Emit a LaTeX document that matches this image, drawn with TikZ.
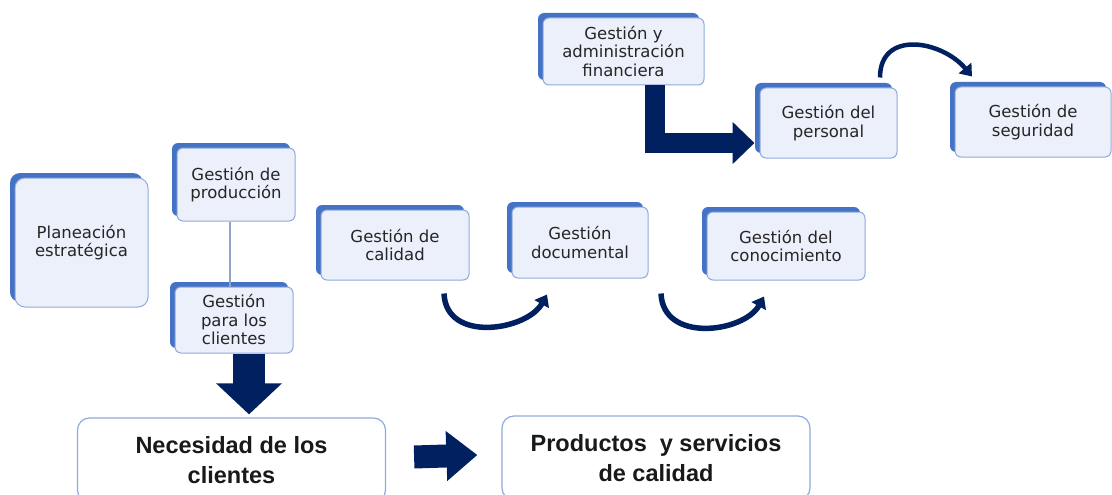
\documentclass[tikz,border=0pt]{standalone}
\usepackage{fontspec}
\usepackage{xcolor}
\usepackage{tikz}
\usetikzlibrary{shadows,arrows.meta,positioning,calc}
\newfontfamily\gfont{DejaVu Sans}
\newfontfamily\nfont{Liberation Sans}
\definecolor{flecha}{RGB}{0,32,96}
\definecolor{sombra}{RGB}{68,114,196}
\definecolor{relleno}{RGB}{235,240,250}
\definecolor{borde}{RGB}{143,170,220}
\definecolor{enlace}{RGB}{142,164,200}
\tikzset{
gest/.style={rectangle,rounded corners=6pt,
inner sep=0pt,align=center,
draw=borde,line width=1pt,fill=relleno,text=black!85,
font=\gfont\fontsize{16.5}{18.5}\selectfont,
general shadow={shadow xshift=-5pt,shadow yshift=5pt,fill=sombra}},
meta/.style={rectangle,rounded corners=12pt,
minimum width=308pt,minimum height=84pt,inner sep=0pt,align=center,
draw=borde,line width=1.2pt,fill=white,text=black!90,
font=\nfont\bfseries\fontsize{23.5}{30}\selectfont},
bloque/.style n args={3}{draw=flecha,line width=#1,
-{Triangle[width=#2,length=#3]}},
curva/.style={draw=flecha,line width=5.5pt,
-{Triangle[width=16pt,length=11pt]}},
linea/.style={draw=enlace,line width=1.2pt}
}

\begin{document}
\begin{tikzpicture}[x=1pt,y=-1pt]
	\useasboundingbox (0,0) rectangle (1112,495);

	% cajas de gestion
	\node[gest,minimum width=161pt,minimum height=67pt,name=fin] at (623.5,51.5) {Gestión y\\administración\\financiera};
	\node[gest,minimum width=137pt,minimum height=70pt,name=pers] at (828.5,123) {Gestión del\\personal};
	\node[gest,minimum width=156pt,minimum height=70pt,name=seg] at (1033,122) {Gestión de\\seguridad};
	\node[gest,rounded corners=10pt,minimum width=133pt,minimum height=129pt,name=plan] at (81.5,242.5) {Planeación\\estratégica};
	\node[gest,minimum width=118pt,minimum height=73pt,name=prod] at (236,184.5) {Gestión de\\producción};
	\node[gest,minimum width=118pt,minimum height=66pt,name=cli] at (234,320) {Gestión\\para los\\clientes};
	\node[gest,minimum width=148pt,minimum height=70pt,name=cal] at (395,245) {Gestión de\\calidad};
	\node[gest,minimum width=136pt,minimum height=71pt,name=doc] at (580,242.5) {Gestión\\documental};
	\node[gest,minimum width=158pt,minimum height=68pt,name=con] at (786,246) {Gestión del\\conocimiento};

	% resultados
	\node[meta,name=nec] at (231.5,460) {Necesidad de los\\clientes};
	\node[meta,name=prd] at (656,458) {Productos~ y servicios\\de calidad};

	\draw[linea] ([xshift=-6pt]prod.south) -- ([xshift=-4pt]cli.north);

	\draw[bloque={20pt}{41pt}{22pt}] ([xshift=31pt]fin.south) |- ([shift={(-5,20)}]pers.west);
	\draw[bloque={32pt}{64pt}{31pt}] ([xshift=15pt]cli.south) -- ([xshift=15pt,yshift=3pt]cli.south |- nec.north);
	\draw[bloque={23pt}{48pt}{31pt}] ([shift={(28,-3)}]nec.east) -- ([shift={(-24,-3)}]prd.west);

	\draw[curva] ([shift={(49,13)}]cal.south) .. controls +(2,50) and +(-20,36) .. ([shift={(-33,16)}]doc.south);
	\draw[curva] ([shift={(81,15)}]doc.south) .. controls +(2,50) and +(-20,36) .. ([shift={(-22,16)}]con.south);
	\draw[curva,line width=4.5pt] ([shift={(51.5,-10)}]pers.north) .. controls +(0,-48) and +(-30,-36) .. ([shift={(-61,-10)}]seg.north);

\end{tikzpicture}
\end{document}
